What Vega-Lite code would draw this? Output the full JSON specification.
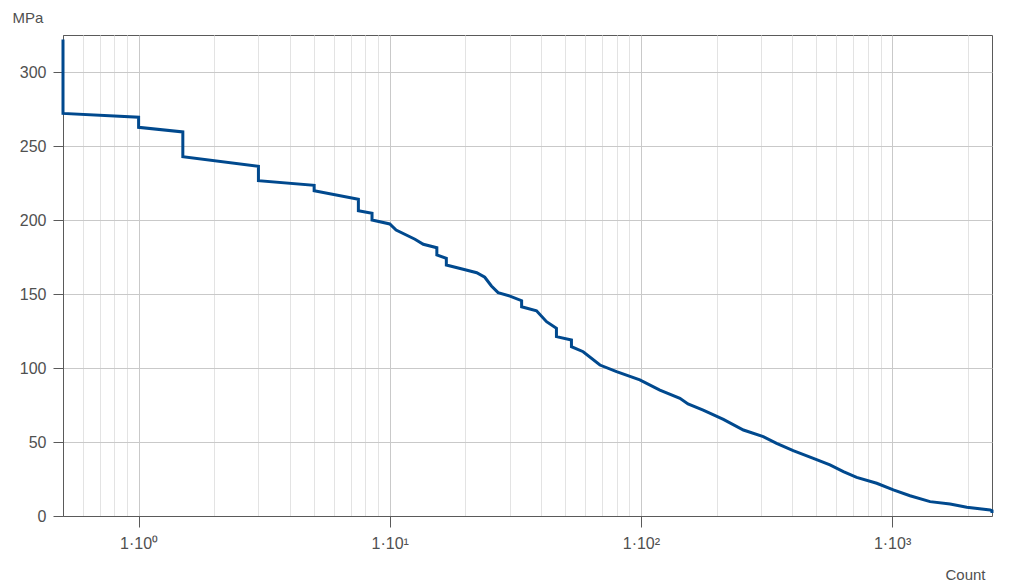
{
  "$schema": "https://vega.github.io/schema/vega-lite/v6.json",
  "width": 929,
  "height": 481,
  "autosize": {"type": "none"},
  "padding": {"left": 63, "top": 35, "right": 36, "bottom": 69},
  "background": "white",
  "config": {
    "view": {"stroke": "#5a5a5a", "strokeWidth": 1},
    "font": "Liberation Sans",
    "axis": {"labelFont": "Liberation Sans", "titleFont": "Liberation Sans", "labelColor": "#505050", "titleColor": "#505050", "titleFontWeight": "normal"}
  },
  "data": {
    "values": [
      {"i": 1, "n": 0.5, "s": 322},
      {"i": 2, "n": 0.5, "s": 272},
      {"i": 3, "n": 1.0, "s": 269.5},
      {"i": 4, "n": 1.0, "s": 262.6},
      {"i": 5, "n": 1.5, "s": 259.5},
      {"i": 6, "n": 1.5, "s": 242.8},
      {"i": 7, "n": 3.0, "s": 236.3},
      {"i": 8, "n": 3.0, "s": 226.6},
      {"i": 9, "n": 5.0, "s": 223.4},
      {"i": 10, "n": 5.0, "s": 219.8},
      {"i": 11, "n": 7.5, "s": 214},
      {"i": 12, "n": 7.5, "s": 206.3},
      {"i": 13, "n": 8.5, "s": 204.5},
      {"i": 14, "n": 8.5, "s": 200},
      {"i": 15, "n": 10, "s": 197.3},
      {"i": 16, "n": 10.6, "s": 193.2},
      {"i": 17, "n": 12.6, "s": 187},
      {"i": 18, "n": 13.6, "s": 183.6},
      {"i": 19, "n": 15.4, "s": 181.3},
      {"i": 20, "n": 15.4, "s": 176.4},
      {"i": 21, "n": 16.8, "s": 174.1},
      {"i": 22, "n": 16.8, "s": 169.6},
      {"i": 23, "n": 19.6, "s": 166.7},
      {"i": 24, "n": 22.2, "s": 164.4},
      {"i": 25, "n": 23.9, "s": 161.3},
      {"i": 26, "n": 25.4, "s": 155.4},
      {"i": 27, "n": 27, "s": 150.9},
      {"i": 28, "n": 30.1, "s": 148.6},
      {"i": 29, "n": 33.5, "s": 145.5},
      {"i": 30, "n": 33.5, "s": 141.4},
      {"i": 31, "n": 38.4, "s": 138.7},
      {"i": 32, "n": 42.1, "s": 131.3},
      {"i": 33, "n": 46.1, "s": 126.8},
      {"i": 34, "n": 46.1, "s": 121.2},
      {"i": 35, "n": 52.9, "s": 118.9},
      {"i": 36, "n": 52.9, "s": 114.4},
      {"i": 37, "n": 58.9, "s": 111},
      {"i": 38, "n": 68.7, "s": 102},
      {"i": 39, "n": 80, "s": 97.5},
      {"i": 40, "n": 99, "s": 92},
      {"i": 41, "n": 119, "s": 85.1},
      {"i": 42, "n": 143, "s": 79.5},
      {"i": 43, "n": 154, "s": 75.7},
      {"i": 44, "n": 177, "s": 71.6},
      {"i": 45, "n": 213, "s": 65.3},
      {"i": 46, "n": 256, "s": 58.1},
      {"i": 47, "n": 307, "s": 53.6},
      {"i": 48, "n": 347, "s": 49.1},
      {"i": 49, "n": 404, "s": 44.1},
      {"i": 50, "n": 486, "s": 39},
      {"i": 51, "n": 566, "s": 34.5},
      {"i": 52, "n": 640, "s": 30},
      {"i": 53, "n": 723, "s": 26.1},
      {"i": 54, "n": 869, "s": 22.1},
      {"i": 55, "n": 1012, "s": 17.6},
      {"i": 56, "n": 1179, "s": 13.7},
      {"i": 57, "n": 1417, "s": 9.7},
      {"i": 58, "n": 1702, "s": 8.1},
      {"i": 59, "n": 1984, "s": 5.9},
      {"i": 60, "n": 2457, "s": 4.1},
      {"i": 61, "n": 2500, "s": 3.5},
      {"i": 62, "n": 2500, "s": 2}
    ]
  },
  "resolve": {"axis": {"x": "independent"}},
  "layer": [
    {
      "mark": {"type": "line", "opacity": 0, "strokeWidth": 0},
      "encoding": {
        "x": {
          "field": "n", "type": "quantitative",
          "scale": {"type": "log", "domain": [0.5, 2500], "nice": false},
          "axis": {
            "orient": "top", "title": null, "labels": false, "ticks": false, "domain": false,
            "grid": true, "gridColor": "#e3e3e3", "gridWidth": 1,
            "values": [0.6, 0.7, 0.8, 0.9, 2, 3, 4, 5, 6, 7, 8, 9, 20, 30, 40, 50, 60, 70, 80, 90, 200, 300, 400, 500, 600, 700, 800, 900, 2000]
          }
        },
        "y": {
          "field": "s", "type": "quantitative",
          "scale": {"domain": [0, 325], "nice": false},
          "axis": {
            "title": "MPa", "values": [0, 50, 100, 150, 200, 250, 300],
            "labelFontSize": 16, "labelPadding": 7, "tickSize": 10, "tickColor": "#5a5a5a",
            "domainColor": "#5a5a5a", "grid": true, "gridColor": "#c9c9c9",
            "titleFontSize": 15, "titleAngle": 0, "titleAlign": "left", "titleBaseline": "alphabetic",
            "titleX": -51, "titleY": -13
          }
        },
        "order": {"field": "i", "type": "quantitative"}
      }
    },
    {
      "mark": {"type": "line", "color": "#00498e", "strokeWidth": 3, "strokeJoin": "miter", "strokeCap": "butt"},
      "encoding": {
        "x": {
          "field": "n", "type": "quantitative",
          "scale": {"type": "log", "domain": [0.5, 2500], "nice": false},
          "axis": {
            "orient": "bottom", "title": "Count", "values": [1, 10, 100, 1000],
            "labelExpr": "datum.value == 1 ? '1·10⁰' : datum.value == 10 ? '1·10¹' : datum.value == 100 ? '1·10²' : '1·10³'",
            "labelFontSize": 16, "labelPadding": 8, "tickSize": 11, "tickColor": "#5a5a5a",
            "domainColor": "#5a5a5a", "grid": true, "gridColor": "#c9c9c9",
            "titleFontSize": 15, "titleAlign": "right", "titleBaseline": "alphabetic",
            "titleX": 922, "titleY": 63, "titleAnchor": null
          }
        },
        "y": {
          "field": "s", "type": "quantitative",
          "scale": {"domain": [0, 325], "nice": false},
          "axis": {
            "title": "MPa", "values": [0, 50, 100, 150, 200, 250, 300],
            "labelFontSize": 16, "labelPadding": 7, "tickSize": 10, "tickColor": "#5a5a5a",
            "domainColor": "#5a5a5a", "grid": true, "gridColor": "#c9c9c9",
            "titleFontSize": 15, "titleAngle": 0, "titleAlign": "left", "titleBaseline": "alphabetic",
            "titleX": -51, "titleY": -13
          }
        },
        "order": {"field": "i", "type": "quantitative"}
      }
    }
  ]
}
